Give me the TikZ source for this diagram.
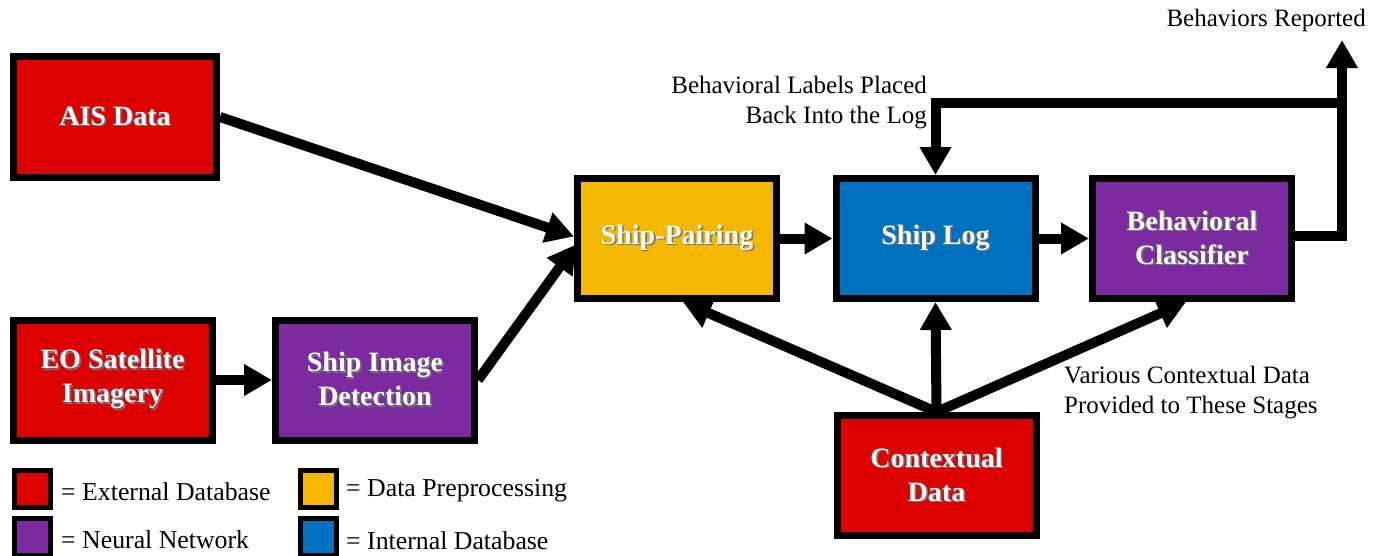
\documentclass[tikz,border=0pt]{standalone}
\usepackage{fontspec}
\setmainfont{Liberation Serif}
\usetikzlibrary{arrows.meta,calc}
\definecolor{cred}{HTML}{DD0000}
\definecolor{cyel}{HTML}{F5B800}
\definecolor{cblu}{HTML}{0070C0}
\definecolor{cpur}{HTML}{7B2A9F}
\newcommand\shl[1]{\leavevmode\rlap{\kern1.6pt\raisebox{-1.6pt}{\textcolor{black!55}{#1}}}#1}
\tikzset{
  box/.style={draw=black, line width=7pt, minimum width=199pt, minimum height=120pt,
    inner sep=0pt, align=center, text=white,
    font=\fontsize{28}{34}\selectfont\bfseries},
  arr/.style={line width=10pt, -{Triangle[length=28pt,width=30pt]}},
  lbl/.style={inner sep=0pt, font=\fontsize{25}{30}\selectfont},
  legt/.style={inner sep=0pt, font=\fontsize{25.8}{30}\selectfont},
  leg/.style={draw=black, line width=5pt, minimum width=36pt, minimum height=37pt, inner sep=0pt},
}
\begin{document}
\begin{tikzpicture}[x=1pt,y=-1pt]
\useasboundingbox (0,0) rectangle (1381,555);
% boxes
\node[box, fill=cred, minimum width=203pt, minimum height=121pt] (ais) at (115,117) {\shl{AIS Data}};
\node[box, fill=cred] (eo) at (112.5,380) {\shl{EO Satellite}\\\shl{Imagery}};
\node[box, fill=cpur] (sid) at (375,380) {\shl{Ship Image}\\\shl{Detection}};
\node[box, fill=cyel] (sp) at (677,238.5) {\shl{Ship-Pairing}};
\node[box, fill=cblu] (sl) at (935.5,238.5) {\shl{Ship Log}};
\node[box, fill=cpur] (bc) at (1192,238.5) {\shl{Behavioral}\\\shl{Classifier}};
\node[box, fill=cred] (cd) at (936.5,475.5) {\shl{Contextual}\\\shl{Data}};
% connectors
\draw[arr] (ais.east) -- ($(sp.west)+(0,-2)$);
\draw[arr] (sid.east) -- ($(sp.west)+(2,6)$);
\draw[arr] (eo.east) -- (sid.west);
\draw[arr] (sp.east) -- (sl.west);
\draw[arr] (sl.east) -- (bc.west);
\draw[arr] (cd.north) -- ($(sp.south)+(6,0)$);
\draw[arr] (cd.north) -- (sl.south);
\draw[arr] (cd.north) -- ($(bc.south)+(-6,0)$);
\coordinate (out) at (1342,40);
\coordinate (j) at (1342,103);
\draw[arr] ($(bc.east)+(0,-3)$) -| (out);
\draw[arr] (j) -| (sl.north);
% labels
\node[lbl, anchor=east] (br) at (1366,20) {Behaviors Reported};
\node[lbl, anchor=east, align=right] (bl) at (927,103) {Behavioral Labels Placed\\Back Into the Log};
\node[lbl, anchor=west, align=left] (vc) at (1064,393) {Various Contextual Data\\Provided to These Stages};
% legend
\node[leg, fill=cred] (l1) at (32,489) {};
\node[leg, fill=cpur] (l2) at (32,537) {};
\node[leg, fill=cyel] (l3) at (318,489) {};
\node[leg, fill=cblu] (l4) at (318,537) {};
\node[legt, anchor=west] (t1) at (61,492) {= External Database};
\node[legt, anchor=west] (t2) at (61,540) {= Neural Network};
\node[legt, anchor=west] (t3) at (346,491) {= Data Preprocessing};
\node[legt, anchor=west] (t4) at (346,541) {= Internal Database};
\end{tikzpicture}
\end{document}
